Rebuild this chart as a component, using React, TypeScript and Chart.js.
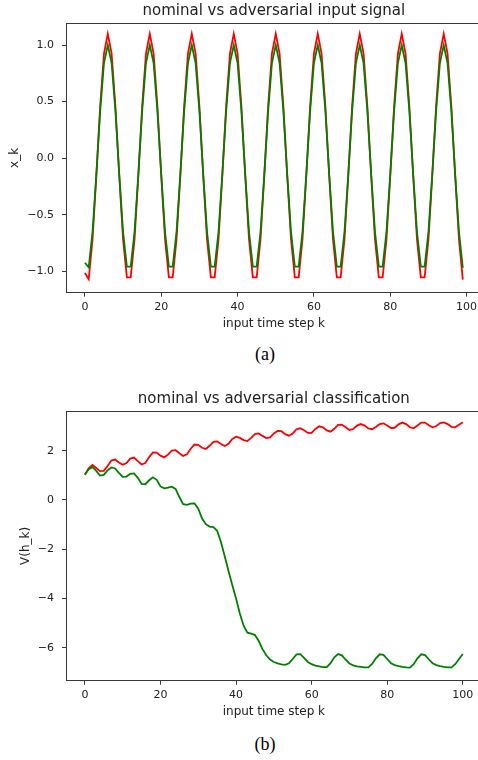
import React, { useEffect, useRef } from "react";
import { Chart, registerables } from "chart.js";

Chart.register(...registerables);

// ---------- data ----------
// (a) input signal x_k, k = 0..99
const greenSignal = [
  -0.925, -0.965, -0.655, -0.142, 0.415, 0.841, 1.0, 0.841, 0.415, -0.142, -0.655,
  -0.959, -0.959, -0.655, -0.142, 0.415, 0.841, 1.0, 0.841, 0.415, -0.142, -0.655,
  -0.959, -0.959, -0.655, -0.142, 0.415, 0.841, 1.0, 0.841, 0.415, -0.142, -0.655,
  -0.959, -0.959, -0.655, -0.142, 0.415, 0.841, 1.0, 0.841, 0.415, -0.142, -0.655,
  -0.959, -0.959, -0.655, -0.142, 0.415, 0.841, 1.0, 0.841, 0.415, -0.142, -0.655,
  -0.959, -0.959, -0.655, -0.142, 0.415, 0.841, 1.0, 0.841, 0.415, -0.142, -0.655,
  -0.959, -0.959, -0.655, -0.142, 0.415, 0.841, 1.0, 0.841, 0.415, -0.142, -0.655,
  -0.959, -0.959, -0.655, -0.142, 0.415, 0.841, 1.0, 0.841, 0.415, -0.142, -0.655,
  -0.959, -0.959, -0.655, -0.142, 0.415, 0.841, 1.0, 0.841, 0.415, -0.142, -0.655,
  -0.97,
];
const redSignal = [
  -1.015, -1.07, -0.72, -0.156, 0.457, 0.925, 1.1, 0.925, 0.457, -0.156, -0.72,
  -1.055, -1.055, -0.72, -0.156, 0.457, 0.925, 1.1, 0.925, 0.457, -0.156, -0.72,
  -1.055, -1.055, -0.72, -0.156, 0.457, 0.925, 1.1, 0.925, 0.457, -0.156, -0.72,
  -1.055, -1.055, -0.72, -0.156, 0.457, 0.925, 1.1, 0.925, 0.457, -0.156, -0.72,
  -1.055, -1.055, -0.72, -0.156, 0.457, 0.925, 1.1, 0.925, 0.457, -0.156, -0.72,
  -1.055, -1.055, -0.72, -0.156, 0.457, 0.925, 1.1, 0.925, 0.457, -0.156, -0.72,
  -1.055, -1.055, -0.72, -0.156, 0.457, 0.925, 1.1, 0.925, 0.457, -0.156, -0.72,
  -1.055, -1.055, -0.72, -0.156, 0.457, 0.925, 1.1, 0.925, 0.457, -0.156, -0.72,
  -1.055, -1.055, -0.72, -0.156, 0.457, 0.925, 1.1, 0.925, 0.457, -0.156, -0.72,
  -1.075,
];

// (b) classification V(h_k), k = 0..100
const redV = [
  1.02, 1.28, 1.42, 1.3, 1.17, 1.18, 1.38, 1.6, 1.64, 1.52,
  1.43, 1.5, 1.68, 1.72, 1.58, 1.44, 1.5, 1.74, 1.93, 1.92,
  1.8, 1.73, 1.84, 2.0, 2.02, 1.9, 1.79, 1.85, 2.08, 2.25,
  2.24, 2.12, 2.07, 2.2, 2.36, 2.38, 2.27, 2.19, 2.28, 2.48,
  2.57, 2.52, 2.43, 2.39, 2.52, 2.67, 2.7, 2.6, 2.51, 2.54,
  2.7, 2.8, 2.79, 2.67, 2.61, 2.7, 2.87, 2.91, 2.83, 2.72,
  2.72, 2.88, 2.99, 2.95, 2.82, 2.77, 2.89, 3.05, 3.06, 2.95,
  2.84, 2.88, 3.02, 3.08, 3.02, 2.9, 2.87, 2.96, 3.08, 3.11,
  3.02, 2.92, 2.93, 3.07, 3.14, 3.08, 2.95, 2.91, 3.02, 3.14,
  3.14, 3.03, 2.95, 3.0, 3.12, 3.15, 3.08, 2.97, 2.95, 3.05,
  3.15,
];
const greenV = [
  1.03, 1.25, 1.33, 1.18, 0.99, 1.02, 1.2, 1.32, 1.28, 1.1,
  0.94, 0.95, 1.06, 1.08, 0.9, 0.65, 0.64, 0.8, 0.92, 0.82,
  0.55, 0.47, 0.5, 0.54, 0.45, 0.12, -0.17, -0.2, -0.15, -0.14,
  -0.35, -0.75, -0.98, -1.08, -1.1, -1.25, -1.7, -2.28, -2.88, -3.45,
  -4.0, -4.6, -5.1, -5.38, -5.42, -5.48, -5.72, -6.05, -6.3, -6.47,
  -6.57, -6.63, -6.67, -6.69, -6.62, -6.45, -6.26, -6.25, -6.4, -6.57,
  -6.66, -6.72, -6.75, -6.78, -6.78, -6.62, -6.38, -6.25, -6.3, -6.48,
  -6.63, -6.71, -6.75, -6.77, -6.79, -6.79, -6.65, -6.42, -6.26, -6.28,
  -6.45, -6.62, -6.7, -6.74, -6.77, -6.79, -6.8, -6.66, -6.42, -6.26,
  -6.29, -6.46, -6.62, -6.7, -6.74, -6.77, -6.79, -6.79, -6.66, -6.45,
  -6.25,
];

const xTicks = [0, 20, 40, 60, 80, 100];
const yTicksA = [-1.0, -0.5, 0.0, 0.5, 1.0];
const yTicksB = [-6, -4, -2, 0, 2];

const titleA = "nominal vs adversarial input signal";
const titleB = "nominal vs adversarial classification";
const xLabel = "input time step k";
const yLabelA = "x_k";
const yLabelB = "V(h_k)";

// ---------- styling ----------
const FONT = "'DejaVu Sans', sans-serif";
const AXIS = "#3a3a3a";
const TEXT = "#222222";
const RED = "#ff0000";
const GREEN = "#008000";
const CANVAS_W = 500;

const fmt = (v: number, digits: number) => {
  const s = Math.abs(v).toFixed(digits);
  return v < 0 ? "\u2212" + s : s;
};

// top spine (the picture is cropped before the right spine)
const framePlugin = {
  id: "frame",
  afterDraw(chart: any) {
    const { ctx, chartArea: a } = chart;
    ctx.save();
    ctx.strokeStyle = AXIS;
    ctx.lineWidth = 1;
    ctx.beginPath();
    const t = Math.round(a.top) + 0.5;
    ctx.moveTo(a.left, t);
    ctx.lineTo(CANVAS_W, t);
    ctx.stroke();
    ctx.restore();
  },
};

interface PanelSpec {
  title: string;
  yLabel: string;
  green: number[];
  red: number[];
  xMin: number;
  xMax: number;
  yMin: number;
  yMax: number;
  yTicks: number[];
  yDigits: number;
  titlePadTop: number;
  titlePadBottom: number;
  yTitlePad: number;
  xAxisHeight: number;
  xTitlePadBottom: number;
}

function buildConfig(p: PanelSpec): any {
  const toPts = (arr: number[]) => arr.map((v, i) => ({ x: i, y: v }));
  const lineDs = (arr: number[], color: string) => ({
    data: toPts(arr),
    borderColor: color,
    backgroundColor: color,
    borderWidth: 1.8,
    pointRadius: 0,
    tension: 0,
    fill: false,
  });
  return {
    type: "line",
    data: { datasets: [lineDs(p.green, GREEN), lineDs(p.red, RED)] },
    options: {
      animation: false,
      responsive: false,
      events: [],
      layout: { padding: { left: 0, right: 18.3, top: 0, bottom: 0 } },
      plugins: {
        legend: { display: false },
        tooltip: { enabled: false },
        title: {
          display: true,
          text: p.title,
          fullSize: false,
          color: TEXT,
          font: { family: FONT, size: 15, weight: "normal", lineHeight: 1.2 },
          padding: { top: p.titlePadTop, bottom: p.titlePadBottom },
        },
      },
      scales: {
        x: {
          type: "linear",
          min: p.xMin,
          max: p.xMax,
          afterBuildTicks: (s: any) => {
            s.ticks = xTicks.map((v) => ({ value: v }));
          },
          afterFit: (s: any) => {
            s.height = p.xAxisHeight;
          },
          ticks: {
            autoSkip: false,
            maxRotation: 0,
            padding: 3.5,
            color: TEXT,
            font: { family: FONT, size: 11 },
            callback: (v: number) => String(v),
          },
          grid: { drawOnChartArea: false, drawTicks: true, tickLength: 4, color: AXIS, lineWidth: 1 },
          border: { display: true, color: AXIS, width: 1 },
          title: {
            display: true,
            text: xLabel,
            color: TEXT,
            font: { family: FONT, size: 12, lineHeight: 1.2 },
            padding: { top: 0, bottom: p.xTitlePadBottom },
          },
        },
        y: {
          type: "linear",
          min: p.yMin,
          max: p.yMax,
          afterBuildTicks: (s: any) => {
            s.ticks = p.yTicks.map((v) => ({ value: v }));
          },
          afterFit: (s: any) => {
            s.width = 66;
          },
          ticks: {
            autoSkip: false,
            padding: 8,
            color: TEXT,
            font: { family: FONT, size: 11 },
            callback: (v: number) => fmt(v, p.yDigits),
          },
          grid: { drawOnChartArea: false, drawTicks: true, tickLength: 4, color: AXIS, lineWidth: 1 },
          border: { display: true, color: AXIS, width: 1 },
          title: {
            display: true,
            text: p.yLabel,
            color: TEXT,
            font: { family: FONT, size: 12, lineHeight: 1.2 },
            padding: { top: p.yTitlePad, bottom: 0 },
          },
        },
      },
    },
    plugins: [framePlugin],
  };
}

const specA: PanelSpec = {
  title: titleA,
  yLabel: yLabelA,
  green: greenSignal,
  red: redSignal,
  xMin: -4.95,
  xMax: 103.95,
  yMin: -1.19,
  yMax: 1.195,
  yTicks: yTicksA,
  yDigits: 1,
  titlePadTop: 2.3,
  titlePadBottom: 2.7,
  yTitlePad: 7.6,
  xAxisHeight: 47.3,
  xTitlePadBottom: 9.4,
};

const specB: PanelSpec = {
  title: titleB,
  yLabel: yLabelB,
  green: greenV,
  red: redV,
  xMin: -5,
  xMax: 105,
  yMin: -7.33,
  yMax: 3.61,
  yTicks: yTicksB,
  yDigits: 0,
  titlePadTop: 20,
  titlePadBottom: 3,
  yTitlePad: 18.3,
  xAxisHeight: 39.3,
  xTitlePadBottom: 0.8,
};

function Panel({ spec, top, height }: { spec: PanelSpec; top: number; height: number }) {
  const ref = useRef<HTMLCanvasElement | null>(null);
  useEffect(() => {
    if (!ref.current) return;
    const chart = new Chart(ref.current, buildConfig(spec));
    return () => chart.destroy();
  }, [spec]);
  return (
    <canvas
      ref={ref}
      width={CANVAS_W}
      height={height}
      style={{ position: "absolute", left: 0, top, width: CANVAS_W, height }}
    />
  );
}

function Caption({ text, top }: { text: string; top: number }) {
  return (
    <div
      style={{
        position: "absolute",
        left: 215,
        top,
        width: 100,
        textAlign: "center",
        fontFamily: "'Liberation Serif', 'Times New Roman', serif",
        fontSize: 18,
        lineHeight: "20px",
        color: "#000",
      }}
    >
      {text}
    </div>
  );
}

export default function App() {
  return (
    <div
      style={{
        position: "absolute",
        left: 0,
        top: 0,
        width: 478,
        height: 760,
        overflow: "hidden",
        background: "#fff",
      }}
    >
      <Panel spec={specA} top={0} height={340} />
      <Caption text="(a)" top={344} />
      <Panel spec={specB} top={370} height={350} />
      <Caption text="(b)" top={734} />
    </div>
  );
}
